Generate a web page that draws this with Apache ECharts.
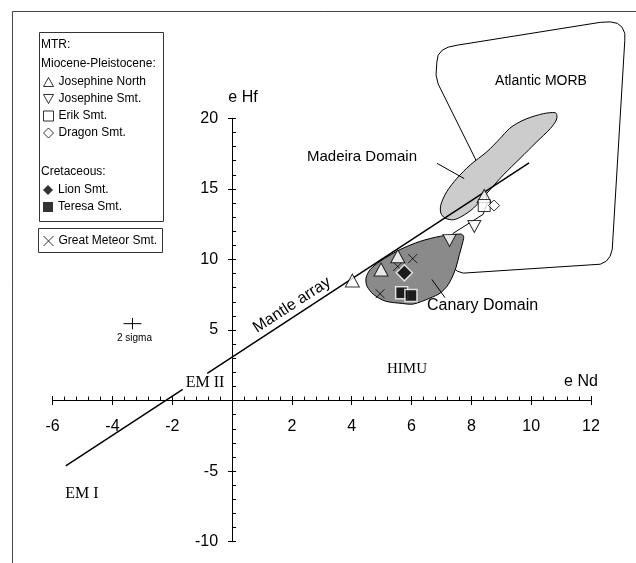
<!DOCTYPE html>
<html><head><meta charset="utf-8">
<script src="https://cdn.jsdelivr.net/npm/echarts@6/dist/echarts.min.js"></script>
<style>html,body{margin:0;padding:0;background:#fff}#c{width:636px;height:563px}</style>
</head><body><div id="c"></div>
<script>
// ---- data (eNd, eHf) ----
const josephineNorth = [[4.02, 8.51], [4.98, 9.29], [5.54, 10.22], [8.43, 14.5]];
const josephineSmt = [[7.27, 11.35], [8.10, 12.34]];
const erikSmt = [[8.43, 13.82]];
const dragonSmt = [[8.76, 13.82]];
const lionSmt = [[5.76, 9.05]];
const teresaSmt = [[5.67, 7.64], [5.98, 7.45]];
const greatMeteor = [[6.04, 10.06], [5.54, 9.5], [4.95, 7.57]];

const mantleLow = [[-5.56, -4.63], [-1.65, 0.79]];
const mantleHigh = [[-0.83, 1.93], [9.93, 16.85]];

const sigmaCenter = [-3.33, 5.45];
const sigmaErr = [0.3, 0.4];

const morbField = [[6.846, 23.98], [6.89, 24.47], [7.023, 24.82], [7.224, 25.04], [7.525, 25.18],
  [12.31, 26.80], [12.64, 26.83], [12.88, 26.73], [13.04, 26.45], [13.13, 26.02], [13.13, 25.53],
  [12.71, 10.72], [12.64, 10.23], [12.51, 9.87], [12.31, 9.66],
  [7.73, 9.03], [7.53, 9.17], [7.39, 9.45], [7.36, 9.73], [7.39, 11.85],
  [8.39, 13.19], [8.53, 13.96], [8.49, 14.67], [8.13, 17.14], [6.89, 22.43], [6.82, 23.06]];
const madeiraField = [[10.80, 20.40], [10.41, 20.33], [9.86, 19.98], [9.52, 19.63], [9.27, 19.27],
  [8.96, 18.57], [8.52, 17.63], [7.96, 16.69], [7.52, 15.75], [7.18, 14.81], [6.98, 13.87],
  [6.98, 13.28], [7.12, 12.93], [7.40, 12.81], [7.68, 13.05], [8.07, 13.63], [8.52, 14.69],
  [9.07, 15.99], [9.63, 17.16], [10.19, 18.34], [10.64, 19.27], [10.84, 19.87], [10.86, 20.22]];
const canaryField = [[7.65, 11.80], [6.96, 11.64], [6.29, 11.28], [5.62, 10.70], [4.95, 9.87],
  [4.62, 9.29], [4.48, 8.70], [4.51, 8.11], [4.73, 7.52], [5.12, 7.05], [5.69, 6.88], [6.06, 6.84],
  [6.62, 7.26], [6.96, 7.62], [7.19, 8.11], [7.36, 8.74], [7.49, 9.45], [7.60, 10.35],
  [7.72, 11.28], [7.74, 11.64]];
const madeiraLeader = [[6.85, 16.81], [7.76, 15.73]];
const canaryLeader = [[6.68, 8.58], [7.12, 7.29]];

const xRange = [-6, 12], xStep = 2;
const yRange = [-10, 20], yStep = 5;

// ---- chart ----
const FONT = '"Liberation Sans", Arial, sans-serif';
const SERIF = '"Liberation Serif", "Times New Roman", serif';
const chart = echarts.init(document.getElementById('c'), null, {renderer: 'canvas'});

function poly(name, pts, fill, z, smooth) {
  return {
    type: 'custom', name, z, silent: true, clip: false,
    data: [pts[0]],
    renderItem(params, api) {
      return {
        type: 'polygon',
        shape: {points: pts.map(p => api.coord(p)), smooth: smooth},
        style: {fill: fill, stroke: '#000', lineWidth: 1}
      };
    }
  };
}
function seg(name, pts, w, z) {
  return {type: 'line', name, data: pts, symbol: 'none', z, silent: true, clip: false,
    lineStyle: {color: '#000', width: w}};
}
const open = {color: '#fff', borderColor: '#000', borderWidth: 1};
const filled = {color: '#000', borderColor: '#fff', borderWidth: 1.5};
const crossPath = 'path://M0,0L10,10M10,0L0,10';
const triUp = 'path://M5,0L10,9L0,9Z';
const triDown = 'path://M0,0L10,0L5,9Z';

const sigmaPts = [
  [sigmaCenter[0] - sigmaErr[0], sigmaCenter[1]], [sigmaCenter[0] + sigmaErr[0], sigmaCenter[1]], '-',
  [sigmaCenter[0], sigmaCenter[1] - sigmaErr[1]], [sigmaCenter[0], sigmaCenter[1] + sigmaErr[1]]
];

const hideZero = v => (v === 0 ? '' : String(v));
const black = {color: '#000'};
const xBase = {type: 'value', min: xRange[0], max: xRange[1], interval: xStep,
  splitLine: {show: false}, axisLine: {onZero: true, lineStyle: {color: '#000', width: 1}}};
const yBase = {type: 'value', min: yRange[0], max: yRange[1], interval: yStep,
  splitLine: {show: false}, axisLine: {onZero: true, lineStyle: {color: '#000', width: 1}}};
const labelStyle = {fontSize: 16, color: '#000', fontFamily: FONT, formatter: hideZero};
const hiddenAxis = {type: 'value', min: 0, max: 1, show: false};

const legendText = {fontSize: 12, color: '#000', fontFamily: FONT};
const legendBase = {orient: 'vertical', left: 43, itemWidth: 10, itemHeight: 10, itemGap: 5, padding: 0,
  selectedMode: false, textStyle: legendText};
const openIcon = {color: '#fff', borderColor: '#000', borderWidth: 1};
const fillIcon = {color: '#000', borderColor: '#000', borderWidth: 0};

// plot rectangle (pixels) and zero crossing
const G = {left: 52.6, top: 118.3, width: 538.4, height: 423.4};
const zeroX = G.left + G.width * (0 - xRange[0]) / (xRange[1] - xRange[0]);
const zeroY = G.top + G.height * (yRange[1] - 0) / (yRange[1] - yRange[0]);
const gridOpt = r => Object.assign({containLabel: false, outerBoundsMode: 'none'}, r);

chart.setOption({
  animation: false,
  backgroundColor: '#fff',
  grid: [
    gridOpt(G), gridOpt(G),
    gridOpt({left: G.left, width: G.width, top: G.top, height: zeroY - G.top}),
    gridOpt({left: zeroX, width: G.left + G.width - zeroX, top: G.top, height: G.height})
  ],
  xAxis: [
    Object.assign({}, xBase, {gridIndex: 0, position: 'bottom', axisLabel: {show: false},
      axisTick: {show: true, length: 4.5, lineStyle: black}}),
    Object.assign({}, xBase, {gridIndex: 1, position: 'top', axisLabel: {show: false},
      axisTick: {show: true, length: 4.5, lineStyle: black},
      minorTick: {show: true, splitNumber: 5, length: 4, lineStyle: black}}),
    Object.assign({}, xBase, {gridIndex: 2, position: 'bottom', axisLine: {show: false, onZero: false},
      axisTick: {show: false}, axisLabel: Object.assign({margin: 18}, labelStyle)}),
    Object.assign({}, hiddenAxis, {gridIndex: 3})
  ],
  yAxis: [
    Object.assign({}, yBase, {gridIndex: 0, position: 'left', axisLabel: {show: false},
      axisTick: {show: true, length: 4, lineStyle: black}}),
    Object.assign({}, yBase, {gridIndex: 1, position: 'right', axisLabel: {show: false},
      axisTick: {show: true, length: 4, lineStyle: black},
      minorTick: {show: true, splitNumber: 5, length: 4, lineStyle: black}}),
    Object.assign({}, hiddenAxis, {gridIndex: 2}),
    Object.assign({}, yBase, {gridIndex: 3, position: 'left', axisLine: {show: false, onZero: false},
      axisTick: {show: false}, axisLabel: Object.assign({margin: 14}, labelStyle)})
  ],
  legend: [
    Object.assign({}, legendBase, {top: 76, data: [
      {name: 'Josephine North', icon: triUp, itemStyle: openIcon},
      {name: 'Josephine Smt.', icon: triDown, itemStyle: openIcon},
      {name: 'Erik Smt.', icon: 'rect', itemStyle: openIcon},
      {name: 'Dragon Smt.', icon: 'diamond', itemStyle: openIcon}]}),
    Object.assign({}, legendBase, {top: 184, data: [
      {name: 'Lion Smt.', icon: 'diamond', itemStyle: fillIcon},
      {name: 'Teresa Smt.', icon: 'rect', itemStyle: fillIcon}]}),
    Object.assign({}, legendBase, {top: 235, data: [
      {name: 'Great Meteor Smt.', icon: crossPath, itemStyle: {color: 'rgba(0,0,0,0)', borderColor: '#000', borderWidth: 1}}]})
  ],
  series: [
    poly('Atlantic MORB', morbField, 'none', 1, 0),
    poly('Madeira Domain', madeiraField, '#cccccc', 2, 0.3),
    poly('Canary Domain', canaryField, '#8a8a8a', 3, 0.3),
    seg('mantle1', mantleLow, 1.5, 4),
    seg('mantle2', mantleHigh, 1.5, 4),
    seg('lead1', madeiraLeader, 1, 4),
    seg('lead2', canaryLeader, 1, 4),
    seg('sigma', sigmaPts, 1, 4),
    {type: 'scatter', name: 'Great Meteor Smt.', data: greatMeteor, symbol: crossPath, symbolSize: 9, z: 5,
      itemStyle: {color: 'rgba(0,0,0,0)', borderColor: '#000', borderWidth: 1}},
    {type: 'scatter', name: 'Josephine North', data: josephineNorth, symbol: triUp, symbolSize: [14, 13], z: 5, itemStyle: open},
    {type: 'scatter', name: 'Josephine Smt.', data: josephineSmt, symbol: triDown, symbolSize: [13, 12], z: 5, itemStyle: open},
    {type: 'scatter', name: 'Erik Smt.', data: erikSmt, symbol: 'rect', symbolSize: 12, z: 5, itemStyle: open},
    {type: 'scatter', name: 'Dragon Smt.', data: dragonSmt, symbol: 'diamond', symbolSize: 11, z: 5, itemStyle: open},
    {type: 'scatter', name: 'Lion Smt.', data: lionSmt, symbol: 'diamond', symbolSize: 16, z: 6, itemStyle: filled},
    {type: 'scatter', name: 'Teresa Smt.', data: teresaSmt, symbol: 'rect', symbolSize: 12, z: 6, itemStyle: filled}
  ],
  graphic: [
    {type: 'rect', shape: {x: 12.5, y: 11.5, width: 800, height: 800}, style: {fill: 'none', stroke: '#444', lineWidth: 1}, silent: true, z: -1},
    {type: 'rect', shape: {x: 39.5, y: 32.5, width: 124, height: 189}, style: {fill: '#fff', stroke: '#333', lineWidth: 1}, silent: true, z: -1},
    {type: 'rect', shape: {x: 38.5, y: 228.5, width: 124, height: 24}, style: {fill: '#fff', stroke: '#333', lineWidth: 1}, silent: true, z: -1},
    {type: 'text', x: 41, y: 45, style: {text: 'MTR:', font: '12px ' + FONT, fill: '#000', verticalAlign: 'middle'}},
    {type: 'text', x: 41, y: 64, style: {text: 'Miocene-Pleistocene:', font: '12px ' + FONT, fill: '#000', verticalAlign: 'middle'}},
    {type: 'text', x: 41, y: 172, style: {text: 'Cretaceous:', font: '12px ' + FONT, fill: '#000', verticalAlign: 'middle'}},
    {type: 'text', x: 541, y: 81, style: {text: 'Atlantic MORB', font: '14px ' + FONT, fill: '#000', align: 'center', verticalAlign: 'middle'}},
    {type: 'text', x: 307, y: 157, style: {text: 'Madeira Domain', font: '15px ' + FONT, fill: '#000', verticalAlign: 'middle'}},
    {type: 'text', x: 427, y: 306, style: {text: 'Canary Domain', font: '16px ' + FONT, fill: '#000', verticalAlign: 'middle'}},
    {type: 'text', x: 243, y: 98, style: {text: 'e Hf', font: '16px ' + FONT, fill: '#000', align: 'center', verticalAlign: 'middle'}},
    {type: 'text', x: 581, y: 382, style: {text: 'e Nd', font: '16px ' + FONT, fill: '#000', align: 'center', verticalAlign: 'middle'}},
    {type: 'text', x: 205, y: 383, style: {text: 'EM II', font: '16px ' + SERIF, fill: '#000', align: 'center', verticalAlign: 'middle'}},
    {type: 'text', x: 82, y: 494, style: {text: 'EM I', font: '16px ' + SERIF, fill: '#000', align: 'center', verticalAlign: 'middle'}},
    {type: 'text', x: 407, y: 369, style: {text: 'HIMU', font: '15px ' + SERIF, fill: '#000', align: 'center', verticalAlign: 'middle'}},
    {type: 'text', x: 134.5, y: 338, style: {text: '2 sigma', font: '10px ' + FONT, fill: '#000', align: 'center', verticalAlign: 'middle'}},
    {type: 'text', x: 292, y: 305, rotation: 33 * Math.PI / 180,
      style: {text: 'Mantle array', font: '16px ' + FONT, fill: '#000', align: 'center', verticalAlign: 'middle'}}
  ]
});
</script></body></html>
